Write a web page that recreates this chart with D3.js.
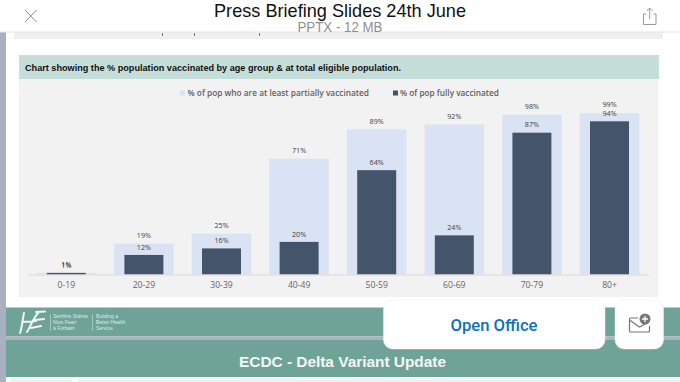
<!DOCTYPE html>
<html>
<head>
<meta charset="utf-8">
<script src="https://cdn.jsdelivr.net/npm/d3@7"></script>
<style>
html,body{margin:0;padding:0;background:#fff;overflow:hidden}
svg{display:block}
</style>
</head>
<body>
<svg id="c" width="680" height="382"></svg>
<script>
const categories = ["0-19","20-29","30-39","40-49","50-59","60-69","70-79","80+"];
const partiallyVaccinated = [1,19,25,71,89,92,98,99];
const fullyVaccinated = [1,12,16,20,64,24,87,94];
const seriesNames = ["% of pop who are at least partially vaccinated","% of pop fully vaccinated"];
const chartCaption = "Chart showing the % population vaccinated by age group & at total eligible population.";

const svg = d3.select("#c");
const LIGHT = "#d9e3f3", DARK = "#44546a", TEAL = "#6fa398";
const sans = "'Liberation Sans', Arial, sans-serif";
const chartFont = "'Open Sans', sans-serif";

function rect(x,y,w,h,fill,r){
  return svg.append("rect").attr("x",x).attr("y",y).attr("width",w).attr("height",h).attr("fill",fill).attr("rx",r||0);
}
function text(x,y,s,size,fill,opts){
  opts = opts||{};
  const t = svg.append("text").attr("x",x).attr("y",y).attr("dominant-baseline","central")
    .attr("font-family",opts.font||sans).attr("font-size",size).attr("fill",fill)
    .attr("font-weight",opts.weight||400).attr("text-anchor",opts.anchor||"start").text(s);
  if(opts.len) t.attr("textLength",opts.len).attr("lengthAdjust","spacingAndGlyphs");
  return t;
}

// Page background pieces
rect(0,32,6,350,"#a9b0bf");
rect(14,32,649,7,"#efefef");
[162,194,259].forEach(x=>rect(x,33,1,3,"#777"));

// Slide footer and next-slide header
rect(6,307.5,674,29,TEAL);
rect(6,336.5,674,3.5,"#adb3bd");
rect(6,340,674,37,TEAL);
rect(10,378,62,4,"#f1f1f4");
rect(78,378,602,4,"#f1f1f4");

// Caption and chart panel
rect(19,55,640,24,"#c6ded9");
rect(18.5,79,639.5,218,"#f2f2f2");
text(25,67,chartCaption,9.6,"#111",{weight:700,len:376});

// Scales
const x = d3.scaleBand().domain(categories).range([27.5,648.3]).paddingInner(0.233).paddingOuter(0.1165);
const y = d3.scaleLinear().domain([0,100]).range([274.5,111.5]);
const darkW = x.bandwidth()*0.655;

// Bars
svg.append("g").selectAll("rect").data(categories).join("rect")
  .attr("x",d=>x(d)).attr("width",x.bandwidth())
  .attr("y",(d,i)=>y(partiallyVaccinated[i]))
  .attr("height",(d,i)=>y(0)-y(partiallyVaccinated[i]))
  .attr("fill",LIGHT);
svg.append("g").selectAll("rect").data(categories).join("rect")
  .attr("x",d=>x(d)+(x.bandwidth()-darkW)/2).attr("width",darkW)
  .attr("y",(d,i)=>y(fullyVaccinated[i]))
  .attr("height",(d,i)=>y(0)-y(fullyVaccinated[i]))
  .attr("fill",DARK);

// Value labels
function labels(vals,offset){
  svg.append("g").selectAll("text").data(categories).join("text")
    .attr("x",d=>x(d)+x.bandwidth()/2)
    .attr("y",(d,i)=>y(vals[i])-offset)
    .attr("text-anchor","middle").attr("dominant-baseline","central")
    .attr("font-family",chartFont).attr("font-size",7.2).attr("fill","#404040")
    .text((d,i)=>vals[i]+"%");
}
labels(partiallyVaccinated,8.9);
labels(fullyVaccinated,8.3);

// Axis
const axis = svg.append("g").attr("transform","translate(0,274.5)")
  .call(d3.axisBottom(x).tickSize(0).tickPadding(7));
axis.select(".domain").attr("stroke","#d9d9d9").attr("stroke-width",1);
axis.selectAll("text").attr("font-family",chartFont).attr("font-size",8.6).attr("fill","#666");

// Legend
rect(180,90.5,5,5,LIGHT);
text(187.5,93,seriesNames[0],8.6,"#5f5f5f",{font:chartFont,weight:600,len:181.5});
rect(393,90.5,5,5,DARK);
text(400,93,seriesNames[1],8.6,"#5f5f5f",{font:chartFont,weight:600,len:99});

// Viewer top bar
svg.append("rect").attr("x",0).attr("y",0).attr("width",680).attr("height",32).attr("fill","#fff");
rect(0,31.5,680,1,"#e4e4e4");
text(340,10,"Press Briefing Slides 24th June",18.5,"#111",{anchor:"middle",len:252});
text(340,27,"PPTX - 12 MB",14.5,"#8f8f8f",{anchor:"middle",len:85});
svg.append("path").attr("d","M25 10 L36.5 22 M36.5 10 L25 22").attr("stroke","#8a8a8a").attr("stroke-width",1).attr("fill","none");
svg.append("path").attr("d","M646 14 H643.5 V24.5 H656 V14 H653.5 M649.7 19 V8.5 M646.7 11 L649.7 8 L652.7 11")
  .attr("stroke","#999").attr("stroke-width",1).attr("fill","none");

// HSE logo
svg.append("path").attr("d","M24 313 C22 322 22 328 20 333 M39 312 C33 318 31 326 27 332 M23 322 L36 321 M36 312 L45 311.5 M35 320 L44 319 M31 328 L41 326")
  .attr("stroke","#f2f7f5").attr("stroke-width",2).attr("fill","none").attr("stroke-linecap","round");
rect(50,314,0.6,17,"#cfe0da");
rect(92.3,314,0.6,17,"#cfe0da");
["Seirbhís Sláinte","Níos Fearr","á Forbairt"].forEach((s,i)=>text(53,316.3+i*6,s,5,"#dfeae6"));
["Building a","Better Health","Service"].forEach((s,i)=>text(96,316.3+i*6,s,5,"#dfeae6"));

// Next slide title
text(342.5,361.5,"ECDC - Delta Variant Update",15,"#f4f7f6",{anchor:"middle",weight:700,len:207});

// Floating buttons
rect(383.5,300,221.5,49,"#fff",9).attr("stroke","#eee").attr("stroke-width",0.5);
rect(615,300,48.5,49,"#fff",9).attr("stroke","#eee").attr("stroke-width",0.5);
text(494,325,"Open Office",16,"#0b6fc2",{font:"Roboto, sans-serif",anchor:"middle",weight:500,len:87});
svg.append("path").attr("d","M638 318 H630.5 Q629.5 318 629.5 319 V331 Q629.5 332 630.5 332 H648 Q649.5 332 649.5 331 V326 M629.5 320 L639.5 327 L645 324")
  .attr("stroke","#777").attr("stroke-width",1.2).attr("fill","none");
svg.append("circle").attr("cx",645).attr("cy",319).attr("r",5.5).attr("fill","#777");
svg.append("path").attr("d","M642 319 H648 M645 316 V322").attr("stroke","#fff").attr("stroke-width",1.3);
</script>
</body>
</html>
